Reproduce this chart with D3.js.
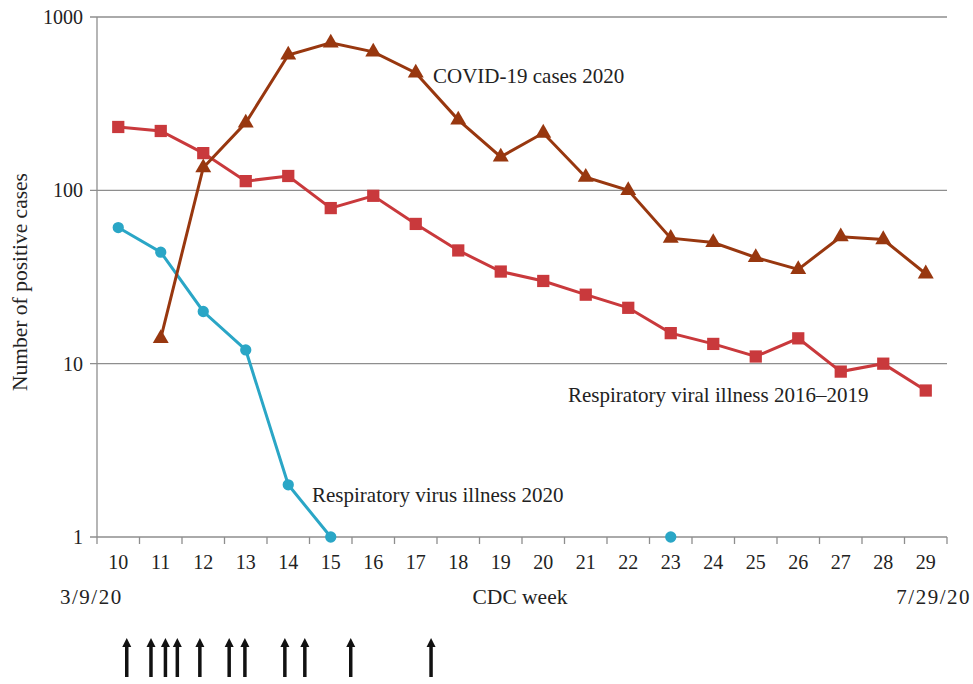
<!DOCTYPE html>
<html>
<head>
<meta charset="utf-8">
<script src="https://cdn.jsdelivr.net/npm/d3@7"></script>
<style>
  body { margin: 0; background: #fff; }
  text { font-family: "Liberation Serif", "DejaVu Serif", serif; fill: #222; }
</style>
</head>
<body>
<div id="chart"></div>
<script>
// CDC weeks on the x axis
const weeks = [10, 11, 12, 13, 14, 15, 16, 17, 18, 19, 20, 21, 22, 23, 24, 25, 26, 27, 28, 29];

// COVID-19 cases 2020 (no value for week 10)
const covid2020 = [null, 14, 135, 245, 604, 709, 629, 476, 255, 156, 214, 119, 100, 53, 50, 41, 35, 54, 52, 33];
// Respiratory viral illness 2016-2019
const resp2016to2019 = [232, 220, 164, 113, 121, 79, 93, 64, 45, 34, 30, 25, 21, 15, 13, 11, 14, 9, 10, 7];
// Respiratory virus illness 2020 (zero weeks left empty)
const resp2020 = [61, 44, 20, 12, 2, 1, null, null, null, null, null, null, null, 1, null, null, null, null, null, null];

const yTicks = [1, 10, 100, 1000];

// events shown as arrows under the axis, in fractional CDC weeks
const arrowWeeks = [10.2, 10.77, 11.11, 11.39, 11.92, 12.61, 12.98, 13.92, 14.39, 15.47, 17.36];

const width = 973, height = 684;
const margin = { top: 17, right: 26, bottom: 147, left: 97 };

const svg = d3.select("#chart").append("svg")
    .attr("width", width)
    .attr("height", height);

const x = d3.scaleBand()
    .domain(weeks)
    .range([margin.left, width - margin.right]);

const y = d3.scaleLog()
    .domain([1, 1000])
    .range([height - margin.bottom, margin.top]);

// week -> pixel for the arrows
const xw = d3.scaleLinear()
    .domain([weeks[0], weeks[weeks.length - 1]])
    .range([x(weeks[0]) + x.bandwidth() / 2, x(weeks[weeks.length - 1]) + x.bandwidth() / 2]);

const axisColor = "#8e8e8e";

// horizontal grid lines
svg.append("g")
    .selectAll("line")
    .data(yTicks)
    .enter().append("line")
    .attr("x1", margin.left - 7)
    .attr("x2", width - margin.right)
    .attr("y1", d => y(d))
    .attr("y2", d => y(d))
    .attr("stroke", axisColor)
    .attr("stroke-width", 1.3);

// left axis line
svg.append("line")
    .attr("x1", margin.left).attr("x2", margin.left)
    .attr("y1", y(1000)).attr("y2", y(1))
    .attr("stroke", axisColor)
    .attr("stroke-width", 1.3);

// y tick labels
svg.append("g")
    .selectAll("text")
    .data(yTicks)
    .enter().append("text")
    .attr("x", margin.left - 14)
    .attr("y", d => y(d))
    .attr("dy", "0.35em")
    .attr("text-anchor", "end")
    .style("font-size", "20px")
    .text(d => d);

// x tick marks at week boundaries
const boundaries = weeks.map(w => x(w)).concat([x(weeks[weeks.length - 1]) + x.bandwidth()]);
svg.append("g")
    .selectAll("line")
    .data(boundaries)
    .enter().append("line")
    .attr("x1", d => d).attr("x2", d => d)
    .attr("y1", y(1)).attr("y2", y(1) + 7)
    .attr("stroke", axisColor)
    .attr("stroke-width", 1.3);

// x tick labels
svg.append("g")
    .selectAll("text")
    .data(weeks)
    .enter().append("text")
    .attr("x", d => x(d) + x.bandwidth() / 2)
    .attr("y", y(1) + 32)
    .attr("text-anchor", "middle")
    .style("font-size", "20px")
    .text(d => d);

// axis titles and dates
svg.append("text")
    .attr("transform", `translate(27,${(y(1) + y(1000)) / 2 + 5}) rotate(-90)`)
    .attr("text-anchor", "middle")
    .style("font-size", "21.5px")
    .text("Number of positive cases");

svg.append("text")
    .attr("x", 520).attr("y", 604)
    .attr("text-anchor", "middle")
    .style("font-size", "21.5px")
    .text("CDC week");

svg.append("text")
    .attr("x", 60).attr("y", 604)
    .style("font-size", "21px")
    .style("letter-spacing", "1.5px")
    .text("3/9/20");

svg.append("text")
    .attr("x", 971).attr("y", 604)
    .attr("text-anchor", "end")
    .style("font-size", "21px")
    .style("letter-spacing", "1.5px")
    .text("7/29/20");

// series
const series = [
    { values: resp2020, color: "#2aa6c6", symbol: d3.symbolCircle, size: 100 },
    { values: resp2016to2019, color: "#c9393c", symbol: d3.symbolSquare, size: 150 },
    { values: covid2020, color: "#98370f", symbol: d3.symbolTriangle, size: 110 }
];

const line = d3.line()
    .defined(d => d.v !== null)
    .x(d => x(d.w) + x.bandwidth() / 2)
    .y(d => y(d.v));

series.forEach(s => {
    const pts = weeks.map((w, i) => ({ w: w, v: s.values[i] }));
    svg.append("path")
        .datum(pts)
        .attr("fill", "none")
        .attr("stroke", s.color)
        .attr("stroke-width", 3)
        .attr("d", line);

    svg.append("g")
        .selectAll("path")
        .data(pts.filter(d => d.v !== null))
        .enter().append("path")
        .attr("transform", d => `translate(${x(d.w) + x.bandwidth() / 2},${y(d.v)})`)
        .attr("d", d3.symbol().type(s.symbol).size(s.size))
        .attr("fill", s.color);
});

// series labels
svg.append("text")
    .attr("x", 433).attr("y", 83)
    .style("font-size", "21px")
    .text("COVID-19 cases 2020");

svg.append("text")
    .attr("x", 568).attr("y", 402)
    .style("font-size", "21px")
    .text("Respiratory viral illness 2016–2019");

svg.append("text")
    .attr("x", 312).attr("y", 502)
    .style("font-size", "21px")
    .text("Respiratory virus illness 2020");

// arrows
const arrows = svg.append("g")
    .selectAll("g")
    .data(arrowWeeks)
    .enter().append("g")
    .attr("transform", d => `translate(${xw(d)},0)`);

arrows.append("line")
    .attr("x1", 0).attr("x2", 0)
    .attr("y1", 646).attr("y2", 677)
    .attr("stroke", "#111")
    .attr("stroke-width", 3.5);

arrows.append("path")
    .attr("d", "M-4.5,647 L0,638 L4.5,647 Z")
    .attr("fill", "#111");
</script>
</body>
</html>
